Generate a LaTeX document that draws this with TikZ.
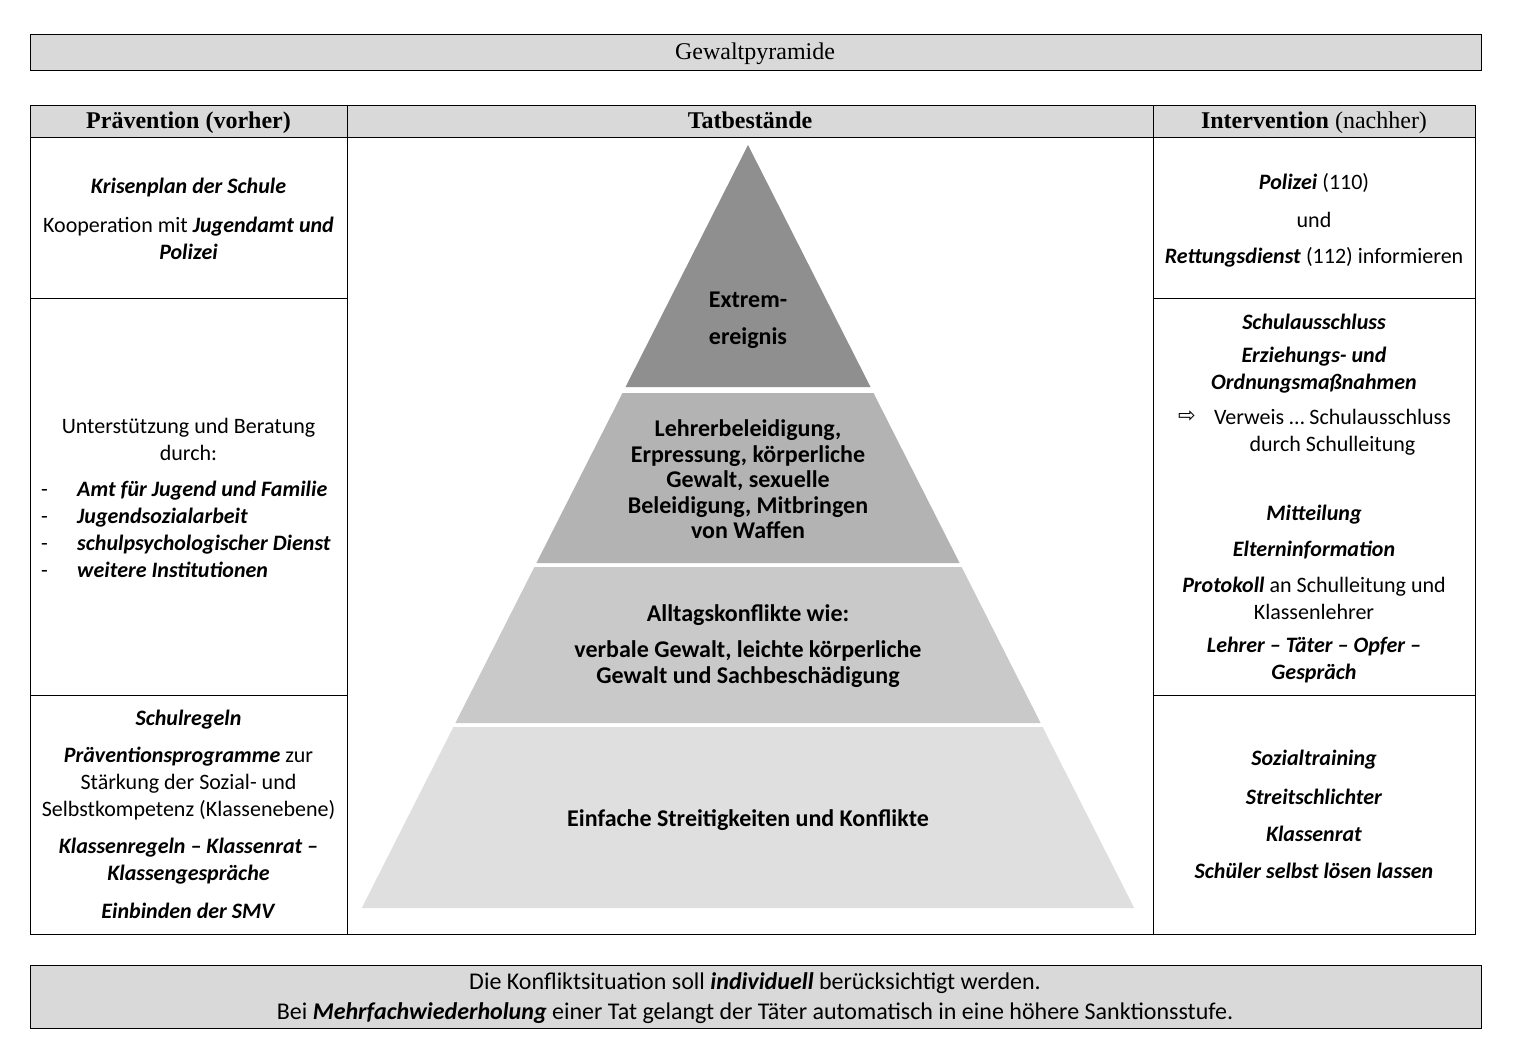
\documentclass[tikz,border=0pt]{standalone}
\usepackage{fontspec}
\setmainfont{Carlito}
\newfontfamily\headserif{Liberation Serif}
\newfontfamily\symfont{DejaVu Sans}
\newcommand{\bix}[1]{\textbf{\textit{#1}}}
\definecolor{hdrgray}{HTML}{D9D9D9}
\definecolor{pyrA}{HTML}{8F8F8F}
\definecolor{pyrB}{HTML}{B3B3B3}
\definecolor{pyrC}{HTML}{C9C9C9}
\definecolor{pyrD}{HTML}{DFDFDF}
\begin{document}
\begin{tikzpicture}[x=1pt,y=-1pt,
  frame/.style={draw=black,line width=1pt},
  body/.style={font=\fontsize{22}{27}\selectfont,align=center,inner sep=0pt,anchor=center},
  lbody/.style={font=\fontsize{22}{27}\selectfont,inner sep=0pt,anchor=base west},
  pyr/.style={font=\fontsize{24}{25.5}\selectfont\bfseries,align=center,inner sep=0pt,anchor=center},
  head/.style={font=\fontsize{24}{28}\headserif,inner sep=0pt,anchor=base},
  foot/.style={font=\fontsize{24}{30}\selectfont,align=center,inner sep=0pt,anchor=center}
]
\useasboundingbox (0,0) rectangle (1520,1056);
\fill[white] (0,0) rectangle (1520,1056);

% title box
\draw[frame,fill=hdrgray] (30,35) rectangle (1481,71);
\node[head] (title) at (755,60) {Gewaltpyramide};

% table
\fill[hdrgray] (30,106) rectangle (1475,138);
\draw[frame] (30,106) rectangle (1475,934);
\draw[frame] (30,138) -- (1475,138);
\draw[frame] (347,106) -- (347,934);
\draw[frame] (1153,106) -- (1153,934);
\draw[frame] (30,299) -- (347,299);
\draw[frame] (30,695) -- (347,695);
\draw[frame] (1153,299) -- (1475,299);
\draw[frame] (1153,695) -- (1475,695);

\node[head,font=\fontsize{24}{28}\headserif\bfseries] (hprev) at (188.5,129) {Prävention (vorher)};
\node[head,font=\fontsize{24}{28}\headserif\bfseries] (htat) at (750,129) {Tatbestände};
\node[head] (hint) at (1314,129) {\textbf{Intervention} (nachher)};

% pyramid
\fill[pyrA] (748,145) -- (870.5,387) -- (625.5,387) -- cycle;
\fill[pyrB] (622.5,393) -- (873.5,393) -- (959.6,563) -- (536.4,563) -- cycle;
\fill[pyrC] (534.4,567) -- (961.6,567) -- (1040.6,723) -- (455.4,723) -- cycle;
\fill[pyrD] (453.4,727) -- (1042.6,727) -- (1134.2,908) -- (361.8,908) -- cycle;

\node[pyr,font=\fontsize{24}{37}\selectfont\bfseries] (extrem) at (748,320) {Extrem-\\ereignis};
\node[pyr] (lehrer) at (748,479.5) {Lehrerbeleidigung,\\Erpressung, körperliche\\Gewalt, sexuelle\\Beleidigung, Mitbringen\\von Waffen};
\node[pyr] (alltag1) at (748,615.5) {Alltagskonflikte wie:};
\node[pyr] (alltag2) at (748,664) {verbale Gewalt, leichte körperliche\\Gewalt und Sachbeschädigung};
\node[pyr] (einfach) at (748,820) {Einfache Streitigkeiten und Konflikte};

% left column
\node[body] (l1a) at (188.5,188) {\bix{Krisenplan der Schule}};
\node[body] (l1b) at (188.5,238) {Kooperation mit \bix{Jugendamt und}\\\bix{Polizei}};
\node[body] (l2a) at (188.5,439.5) {Unterstützung und Beratung\\durch:};
\node[lbody] (d1) at (41,496) {-};
\node[lbody] (d2) at (41,523) {-};
\node[lbody] (d3) at (41,550) {-};
\node[lbody] (d4) at (41,577) {-};
\node[lbody] (i1) at (77,496) {\bix{Amt für Jugend und Familie}};
\node[lbody] (i2) at (77,523) {\bix{Jugendsozialarbeit}};
\node[lbody] (i3) at (77,550) {\bix{schulpsychologischer Dienst}};
\node[lbody] (i4) at (77,577) {\bix{weitere Institutionen}};
\node[body] (l3a) at (188.5,720) {\bix{Schulregeln}};
\node[body] (l3b) at (188.5,784) {\bix{Präventionsprogramme} zur\\Stärkung der Sozial- und\\Selbstkompetenz (Klassenebene)};
\node[body] (l3c) at (188.5,861.5) {\bix{Klassenregeln – Klassenrat –}\\\bix{Klassengespräche}};
\node[body] (l3d) at (188.5,911) {\bix{Einbinden der SMV}};

% right column
\node[body] (r1a) at (1314,183) {\bix{Polizei} (110)};
\node[body] (r1b) at (1314,220) {und};
\node[body] (r1c) at (1314,257) {\bix{Rettungsdienst} (112) informieren};
\node[body] (r2a) at (1314,322) {\bix{Schulausschluss}};
\node[body] (r2b) at (1314,370.5) {\bix{Erziehungs- und}\\\bix{Ordnungsmaßnahmen}};
\node[body,font=\fontsize{21}{24}\symfont] (r2arr) at (1187,417) {⇨};
\node[body] (r2c) at (1332.5,432.5) {Verweis … Schulausschluss\\durch Schulleitung};
\node[body] (r2d) at (1314,515) {\bix{Mitteilung}};
\node[body] (r2e) at (1314,550) {\bix{Elterninformation}};
\node[body] (r2f) at (1314,598.5) {\bix{Protokoll} an Schulleitung und\\Klassenlehrer};
\node[body] (r2g) at (1314,660.5) {\bix{Lehrer – Täter – Opfer –}\\\bix{Gespräch}};
\node[body] (r3a) at (1314,760) {\bix{Sozialtraining}};
\node[body] (r3b) at (1314,797) {\bix{Streitschlichter}};
\node[body] (r3c) at (1314,834) {\bix{Klassenrat}};
\node[body] (r3d) at (1314,871) {\bix{Schüler selbst lösen lassen}};

% bottom box
\draw[frame,fill=hdrgray] (30,965) rectangle (1481,1028);
\node[foot] (foot) at (755,998.5) {Die Konfliktsituation soll \bix{individuell} berücksichtigt werden.\\Bei \bix{Mehrfachwiederholung} einer Tat gelangt der Täter automatisch in eine höhere Sanktionsstufe.};
\end{tikzpicture}
\end{document}
